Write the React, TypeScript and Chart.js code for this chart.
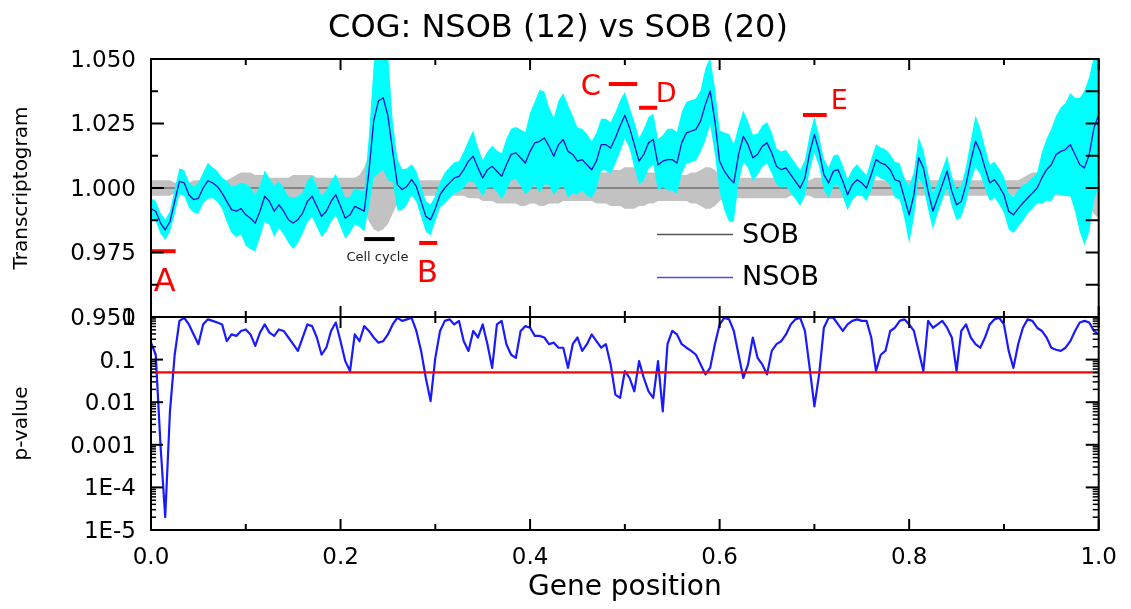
import React, { useEffect, useRef } from 'react';
import { Chart, registerables } from 'chart.js';

Chart.register(...registerables);

// ---------------- data ----------------
const genePosition = [
  0, 0.005, 0.01, 0.015, 0.02, 0.025, 0.03, 0.035, 0.04, 0.045,
  0.05, 0.055, 0.06, 0.065, 0.07, 0.075, 0.08, 0.085, 0.09, 0.095,
  0.1, 0.105, 0.11, 0.115, 0.12, 0.125, 0.13, 0.135, 0.14, 0.145,
  0.15, 0.155, 0.16, 0.165, 0.17, 0.175, 0.18, 0.185, 0.19, 0.195,
  0.2, 0.205, 0.21, 0.215, 0.22, 0.225, 0.23, 0.235, 0.24, 0.245,
  0.25, 0.255, 0.26, 0.265, 0.27, 0.275, 0.28, 0.285, 0.29, 0.295,
  0.3, 0.305, 0.31, 0.315, 0.32, 0.325, 0.33, 0.335, 0.34, 0.345,
  0.35, 0.355, 0.36, 0.365, 0.37, 0.375, 0.38, 0.385, 0.39, 0.395,
  0.4, 0.405, 0.41, 0.415, 0.42, 0.425, 0.43, 0.435, 0.44, 0.445,
  0.45, 0.455, 0.46, 0.465, 0.47, 0.475, 0.48, 0.485, 0.49, 0.495,
  0.5, 0.505, 0.51, 0.515, 0.52, 0.525, 0.53, 0.535, 0.54, 0.545,
  0.55, 0.555, 0.56, 0.565, 0.57, 0.575, 0.58, 0.585, 0.59, 0.595,
  0.6, 0.605, 0.61, 0.615, 0.62, 0.625, 0.63, 0.635, 0.64, 0.645,
  0.65, 0.655, 0.66, 0.665, 0.67, 0.675, 0.68, 0.685, 0.69, 0.695,
  0.7, 0.705, 0.71, 0.715, 0.72, 0.725, 0.73, 0.735, 0.74, 0.745,
  0.75, 0.755, 0.76, 0.765, 0.77, 0.775, 0.78, 0.785, 0.79, 0.795,
  0.8, 0.805, 0.81, 0.815, 0.82, 0.825, 0.83, 0.835, 0.84, 0.845,
  0.85, 0.855, 0.86, 0.865, 0.87, 0.875, 0.88, 0.885, 0.89, 0.895,
  0.9, 0.905, 0.91, 0.915, 0.92, 0.925, 0.93, 0.935, 0.94, 0.945,
  0.95, 0.955, 0.96, 0.965, 0.97, 0.975, 0.98, 0.985, 0.99, 0.995,
  1.0,
];

// NSOB (12) mean transcriptogram
const nsobMean = [
  0.992, 0.991, 0.9864, 0.9838, 0.987, 0.9948, 1.0026, 1.002, 0.9974, 0.9955,
  0.996, 1.0, 1.0028, 1.002, 1.0006, 0.998, 0.9948, 0.9916, 0.991, 0.992,
  0.9896, 0.9883, 0.9864, 0.991, 0.9968, 0.9948, 0.991, 0.9935, 0.991, 0.9877,
  0.9864, 0.9877, 0.9903, 0.9948, 0.9968, 0.9929, 0.989, 0.991, 0.9948, 0.9974,
  0.9929, 0.9883, 0.9896, 0.9929, 0.992, 0.991, 1.0065, 1.026, 1.0337, 1.035,
  1.028, 1.0142, 1.0013, 0.9994, 1.0006, 1.0032, 1.0006, 0.9948, 0.989, 0.9877,
  0.992, 0.9974, 1.0, 1.002, 1.0039, 1.0045, 1.0071, 1.0104, 1.0123, 1.0078,
  1.0039, 1.0071, 1.0084, 1.0065, 1.0045, 1.009, 1.013, 1.0136, 1.0117, 1.0097,
  1.0142, 1.0175, 1.0181, 1.0194, 1.0162, 1.0123, 1.0168, 1.0188, 1.0142, 1.013,
  1.0104, 1.011, 1.009, 1.0071, 1.0104, 1.0168, 1.0168, 1.0155, 1.0194, 1.024,
  1.0282, 1.0233, 1.0168, 1.0104, 1.013, 1.0175, 1.0188, 1.009, 1.0104, 1.011,
  1.011, 1.0097, 1.0175, 1.0214, 1.022, 1.0227, 1.026, 1.0324, 1.0376, 1.026,
  1.0104, 1.0065, 1.0039, 1.002, 1.013, 1.02, 1.0168, 1.0117, 1.013, 1.0162,
  1.0175, 1.0136, 1.0084, 1.0071, 1.0078, 1.0052, 1.0026, 1.0, 1.0039, 1.0136,
  1.0207, 1.0142, 1.0052, 1.002, 1.0065, 1.0071, 1.0026, 0.9974, 1.0013, 1.0032,
  1.002, 1.0, 1.0052, 1.011, 1.0097, 1.009, 1.0071, 1.0032, 1.0026, 0.9961,
  0.9896, 0.9974, 1.0117, 1.0078, 0.9987, 0.991, 0.9961, 1.0013, 1.0065, 0.9987,
  0.9935, 0.9948, 1.0013, 1.0104, 1.0181, 1.0142, 1.0078, 1.002, 1.0032, 1.0006,
  0.9974, 0.991, 0.9896, 0.992, 0.9942, 0.9961, 0.998, 1.0, 1.0039, 1.0071,
  1.009, 1.013, 1.0142, 1.0149, 1.0168, 1.013, 1.009, 1.0078, 1.013, 1.0233,
  1.0285,
];

// half-width of the NSOB (cyan) band, in thousandths
const nsobSpread = [
  4, 4, 4, 4, 4, 5, 5, 5, 5, 5,
  6, 6, 7, 6, 6, 6, 8, 9, 10, 10,
  12, 12, 11, 10, 10, 9, 10, 9, 9, 9,
  10, 9, 8, 8, 8, 8, 8, 8, 8, 8,
  8, 8, 7, 7, 7, 8, 14, 22, 28, 28,
  25, 12, 10, 8, 7, 6, 6, 6, 6, 6,
  5, 5, 6, 6, 6, 6, 7, 8, 10, 8,
  7, 7, 8, 8, 9, 10, 10, 10, 11, 12,
  15, 16, 20, 18, 15, 15, 17, 18, 18, 15,
  13, 12, 12, 11, 11, 10, 10, 10, 10, 10,
  9, 8, 9, 9, 10, 10, 10, 10, 10, 12,
  12, 12, 12, 12, 12, 12, 12, 14, 13, 13,
  12, 15, 17, 15, 11, 10, 9, 9, 8, 8,
  8, 8, 7, 7, 7, 7, 7, 7, 7, 7,
  7, 6, 6, 6, 6, 6, 6, 6, 6, 6,
  5, 5, 6, 6, 6, 6, 6, 7, 7, 8,
  11, 9, 8, 7, 7, 7, 6, 6, 6, 6,
  6, 6, 7, 8, 10, 9, 8, 7, 7, 7,
  7, 7, 7, 7, 7, 6, 6, 6, 10, 12,
  14, 15, 17, 18, 20, 22, 26, 30, 30, 28,
  28,
];

// SOB (20) reference level and its (gray) band half-width, in thousandths
const sobMean = 1.0;
const sobSpread = [
  3, 3, 3, 3, 3, 2, 2, 2, 2, 3,
  3, 3, 3, 3, 3, 3, 3, 4, 5, 6,
  6, 6, 5, 5, 5, 4, 4, 4, 4, 4,
  5, 5, 5, 5, 5, 4, 4, 4, 4, 4,
  4, 4, 4, 4, 5, 8, 13, 16, 17, 16,
  14, 10, 6, 3, 3, 3, 3, 3, 3, 3,
  3, 3, 3, 3, 3, 3, 3, 4, 4, 4,
  5, 5, 5, 6, 6, 6, 6, 6, 7, 7,
  6, 6, 7, 7, 6, 6, 6, 5, 5, 5,
  5, 5, 5, 5, 6, 6, 6, 7, 7, 7,
  8, 8, 8, 7, 7, 6, 6, 5, 5, 5,
  5, 5, 5, 5, 6, 6, 7, 8, 8, 7,
  5, 4, 4, 4, 4, 4, 4, 4, 4, 4,
  4, 4, 4, 4, 4, 3, 3, 3, 3, 3,
  4, 4, 4, 4, 4, 4, 4, 4, 4, 3,
  3, 3, 3, 3, 3, 3, 3, 3, 3, 3,
  3, 3, 3, 3, 3, 3, 3, 3, 3, 3,
  3, 3, 3, 3, 3, 3, 3, 3, 3, 3,
  3, 3, 3, 3, 4, 5, 6, 6, 5, 4,
  3, 3, 3, 3, 3, 3, 4, 5, 7, 10,
  12,
];

// p-value along gene position
const pValue = [
  0.25, 0.13, 0.001, 0.00002, 0.006, 0.13, 0.81, 0.96, 0.67, 0.39,
  0.23, 0.67, 0.88, 0.81, 0.74, 0.67, 0.27, 0.39, 0.36, 0.47,
  0.51, 0.39, 0.21, 0.43, 0.67, 0.43, 0.36, 0.51, 0.47, 0.33,
  0.23, 0.16, 0.33, 0.67, 0.61, 0.33, 0.13, 0.19, 0.47, 0.74,
  0.27, 0.092, 0.054, 0.39, 0.27, 0.61, 0.47, 0.33, 0.25, 0.27,
  0.39, 0.67, 0.96, 0.81, 0.88, 0.96, 0.47, 0.16, 0.037, 0.0106,
  0.11, 0.47, 0.81, 0.88, 0.67, 0.81, 0.27, 0.16, 0.47, 0.33,
  0.67, 0.23, 0.064, 0.67, 0.81, 0.23, 0.13, 0.11, 0.47, 0.61,
  0.56, 0.36, 0.36, 0.33, 0.23, 0.25, 0.19, 0.19, 0.064, 0.23,
  0.33, 0.16, 0.23, 0.39, 0.27, 0.19, 0.23, 0.077, 0.015, 0.0126,
  0.054, 0.037, 0.018, 0.092, 0.037, 0.018, 0.0126, 0.092, 0.0061, 0.23,
  0.47, 0.39, 0.23, 0.19, 0.16, 0.13, 0.077, 0.045, 0.064, 0.23,
  0.67, 0.96, 0.88, 0.47, 0.13, 0.037, 0.077, 0.33, 0.11, 0.077,
  0.045, 0.16, 0.23, 0.27, 0.39, 0.67, 0.88, 0.96, 0.47, 0.064,
  0.008, 0.045, 0.56, 0.96, 0.96, 0.67, 0.47, 0.67, 0.81, 0.88,
  0.81, 0.81, 0.33, 0.054, 0.13, 0.16, 0.47, 0.56, 0.81, 0.88,
  0.67, 0.47, 0.16, 0.054, 0.81, 0.56, 0.67, 0.81, 0.56, 0.33,
  0.054, 0.47, 0.67, 0.33, 0.23, 0.19, 0.33, 0.67, 0.88, 0.96,
  0.67, 0.16, 0.064, 0.23, 0.56, 0.88, 0.81, 0.56, 0.47, 0.33,
  0.19, 0.17, 0.16, 0.19, 0.27, 0.47, 0.74, 0.81, 0.74, 0.47,
  0.39,
];

const pThreshold = 0.05;

// axis ticks
const xTickValues = [0, 0.2, 0.4, 0.6, 0.8, 1.0];
const xTickLabels = ['0.0', '0.2', '0.4', '0.6', '0.8', '1.0'];
const xMinorTickValues = [0.1, 0.3, 0.5, 0.7, 0.9];
const topTickValues = [0.95, 0.975, 1.0, 1.025, 1.05];
const topTickLabels = ['0.950', '0.975', '1.000', '1.025', '1.050'];
const topMinorTickValues = [0.9625, 0.9875, 1.0125, 1.0375];
const pTickValues = [1e-5, 1e-4, 1e-3, 1e-2, 1e-1, 1];
const pTickLabels = ['1E-5', '1E-4', '0.001', '0.01', '0.1', '1'];

// marked regions (gene position range, transcriptogram level)
const regionNames = ['A', 'B', 'C', 'D', 'E'];
const regionStart = [0.001, 0.283, 0.483, 0.515, 0.688];
const regionEnd = [0.026, 0.302, 0.513, 0.534, 0.713];
const regionLevel = [0.9755, 0.9787, 1.0403, 1.0311, 1.0283];
const cellCycleRange = [0.225, 0.257];
const cellCycleLevel = 0.9802;

const FONT = "'DejaVu Sans', 'Liberation Sans', sans-serif";

// label placement for the region letters (gene position, level) and sizes
const regionLabelPos = [
  { x: 0.0145, y: 0.9632, size: 32 },
  { x: 0.2916, y: 0.9668, size: 31 },
  { x: 0.4642, y: 1.0388, size: 29 },
  { x: 0.5435, y: 1.0362, size: 27 },
  { x: 0.7263, y: 1.0332, size: 27 },
];

const decorPlugin = {
  id: 'decor',
  afterDatasetsDraw(chart: any) {
    const { ctx, chartArea: ca } = chart;
    const sx = chart.scales.x;
    const sT = chart.scales.yT;
    const sP = chart.scales.yP;
    const seg = (x1: number, y1: number, x2: number, y2: number) => {
      ctx.beginPath();
      ctx.moveTo(x1, y1);
      ctx.lineTo(x2, y2);
      ctx.stroke();
    };
    ctx.save();

    // region bars and letters
    ctx.fillStyle = '#ff0000';
    regionNames.forEach((name, i) => {
      const x1 = sx.getPixelForValue(regionStart[i]);
      const x2 = sx.getPixelForValue(regionEnd[i]);
      const py = sT.getPixelForValue(regionLevel[i]);
      ctx.fillRect(x1, py - 2, x2 - x1, 4);
      const lp = regionLabelPos[i];
      ctx.font = `${lp.size}px ${FONT}`;
      ctx.textAlign = 'center';
      ctx.textBaseline = 'middle';
      ctx.fillText(name, sx.getPixelForValue(lp.x), sT.getPixelForValue(lp.y));
    });

    // cell cycle bar
    ctx.fillStyle = '#000';
    {
      const x1 = sx.getPixelForValue(cellCycleRange[0]);
      const x2 = sx.getPixelForValue(cellCycleRange[1]);
      const py = sT.getPixelForValue(cellCycleLevel);
      ctx.fillRect(x1, py - 2, x2 - x1, 4);
      ctx.font = `13px ${FONT}`;
      ctx.fillStyle = '#222';
      ctx.textAlign = 'center';
      ctx.textBaseline = 'middle';
      ctx.fillText('Cell cycle', (x1 + x2) / 2 - 2, py + 19);
    }

    // legend
    ctx.lineWidth = 1.5;
    ctx.strokeStyle = '#555555';
    seg(ca.left + 506, 234.5, ca.left + 582, 234.5);
    ctx.strokeStyle = '#4b4bf0';
    seg(ca.left + 506, 277.5, ca.left + 582, 277.5);
    ctx.fillStyle = '#000';
    ctx.font = `27px ${FONT}`;
    ctx.textAlign = 'left';
    ctx.textBaseline = 'middle';
    ctx.fillText('SOB', ca.left + 591, 236);
    ctx.fillText('NSOB', ca.left + 591, 278);

    // frame
    ctx.strokeStyle = '#000';
    ctx.lineWidth = 2;
    ctx.strokeRect(ca.left, ca.top, ca.right - ca.left, ca.bottom - ca.top);
    const mid = sT.bottom;
    seg(ca.left, mid, ca.right, mid);

    // x tick marks
    const xt = (v: number, len: number) => {
      const px = sx.getPixelForValue(v);
      seg(px, sT.top, px, sT.top + len);
      seg(px, mid - len, px, mid + len);
      seg(px, sP.bottom - len, px, sP.bottom);
    };
    xTickValues.forEach((v) => xt(v, 11));
    xMinorTickValues.forEach((v) => xt(v, 6));

    // top panel y ticks
    topTickValues.forEach((v) => {
      const py = sT.getPixelForValue(v);
      seg(ca.left, py, ca.left + 13, py);
      seg(ca.right - 13, py, ca.right, py);
    });
    topMinorTickValues.forEach((v) => {
      const py = sT.getPixelForValue(v);
      seg(ca.left, py, ca.left + 7, py);
      seg(ca.right - 13, py, ca.right, py);
    });

    // bottom panel log ticks
    pTickValues.forEach((v, i) => {
      const py = sP.getPixelForValue(v);
      seg(ca.left, py, ca.left + 12, py);
      seg(ca.right - 13, py, ca.right, py);
      if (i < pTickValues.length - 1) {
        for (let m = 2; m <= 9; m++) {
          const pm = sP.getPixelForValue(v * m);
          ctx.lineWidth = 1.5;
          seg(ca.left, pm, ca.left + 5, pm);
          seg(ca.right - 6, pm, ca.right, pm);
          ctx.lineWidth = 2;
        }
      }
    });

    // title
    ctx.fillStyle = '#000';
    ctx.font = `32px ${FONT}`;
    ctx.textAlign = 'center';
    ctx.textBaseline = 'middle';
    ctx.fillText('COG: NSOB (12) vs SOB (20)', 558, 29);

    ctx.restore();
  },
};

export default function App() {
  const ref = useRef<HTMLCanvasElement>(null);

  useEffect(() => {
    const canvas = ref.current;
    if (!canvas) return;
    Chart.defaults.font.family = FONT;
    Chart.defaults.color = '#000';

    const pts = (ys: number[]) => genePosition.map((x, i) => ({ x, y: ys[i] }));
    const nsobLower = nsobMean.map((m, i) => m - nsobSpread[i] / 1000);
    const nsobUpper = nsobMean.map((m, i) => m + nsobSpread[i] / 1000);
    const sobLower = sobSpread.map((s) => sobMean - s / 1000);
    const sobUpper = sobSpread.map((s) => sobMean + s / 1000);
    const sobLine = genePosition.map(() => sobMean);
    const thresholdLine = genePosition.map(() => pThreshold);

    const common = { pointRadius: 0, tension: 0, borderJoinStyle: 'round' as const };

    const chart = new Chart(canvas, {
      type: 'line',
      data: {
        datasets: [
          { ...common, label: 'SOB low', data: pts(sobLower), yAxisID: 'yT', borderWidth: 0, borderColor: 'rgba(0,0,0,0)', fill: false, order: 7 },
          { ...common, label: 'SOB high', data: pts(sobUpper), yAxisID: 'yT', borderWidth: 0, borderColor: 'rgba(0,0,0,0)', backgroundColor: '#c2c2c2', fill: '-1', order: 6 },
          { ...common, label: 'SOB', data: pts(sobLine), yAxisID: 'yT', borderWidth: 1.2, borderColor: '#4a4a4a', fill: false, order: 5 },
          { ...common, label: 'NSOB low', data: pts(nsobLower), yAxisID: 'yT', borderWidth: 0, borderColor: 'rgba(0,0,0,0)', fill: false, order: 4 },
          { ...common, label: 'NSOB high', data: pts(nsobUpper), yAxisID: 'yT', borderWidth: 0, borderColor: 'rgba(0,0,0,0)', backgroundColor: '#00ffff', fill: '-1', order: 3 },
          { ...common, label: 'NSOB', data: pts(nsobMean), yAxisID: 'yT', borderWidth: 1.3, borderColor: '#0b0bd0', fill: false, order: 2 },
          { ...common, label: 'p-value', data: pts(pValue), yAxisID: 'yP', borderWidth: 2.2, borderColor: '#1a1aff', fill: false, order: 2 },
          { ...common, label: 'threshold', data: pts(thresholdLine), yAxisID: 'yP', borderWidth: 2.2, borderColor: '#ff0000', fill: false, order: 1 },
        ],
      },
      options: {
        responsive: false,
        animation: false,
        events: [],
        layout: { padding: { left: 10, top: 59, right: 30, bottom: 4 } },
        plugins: {
          legend: { display: false },
          tooltip: { enabled: false },
          title: { display: false },
        },
        scales: {
          x: {
            type: 'linear',
            position: 'bottom',
            min: 0,
            max: 1,
            grid: { display: false, drawTicks: false },
            border: { display: false },
            afterFit: (s: any) => { s.height = 75; },
            afterBuildTicks: (s: any) => { s.ticks = xTickValues.map((v) => ({ value: v })); },
            ticks: {
              autoSkip: false,
              maxRotation: 0,
              padding: 14,
              font: { size: 23 },
              color: '#000',
              callback: (_v: any, i: number) => xTickLabels[i],
            },
            title: { display: true, text: 'Gene position', font: { size: 28 }, color: '#000', padding: 0 },
          },
          yP: {
            type: 'logarithmic',
            position: 'left',
            stack: 'panels',
            stackWeight: 213,
            min: 1e-5,
            max: 1,
            grid: { display: false, drawTicks: false },
            border: { display: false },
            afterFit: (s: any) => { s.width = 141; },
            afterBuildTicks: (s: any) => { s.ticks = pTickValues.map((v) => ({ value: v })); },
            ticks: {
              autoSkip: false,
              padding: 15,
              labelOffset: 2,
              font: { size: 23 },
              color: '#000',
              callback: (_v: any, i: number) => pTickLabels[i],
            },
            title: { display: true, text: 'p-value', font: { size: 20 }, color: '#000', padding: 0 },
          },
          yT: {
            type: 'linear',
            position: 'left',
            stack: 'panels',
            stackWeight: 258,
            min: 0.95,
            max: 1.05,
            grid: { display: false, drawTicks: false },
            border: { display: false },
            afterFit: (s: any) => { s.width = 141; },
            afterBuildTicks: (s: any) => { s.ticks = topTickValues.map((v) => ({ value: v })); },
            ticks: {
              autoSkip: false,
              padding: 15,
              labelOffset: 2,
              font: { size: 23 },
              color: '#000',
              callback: (_v: any, i: number) => topTickLabels[i],
            },
            title: { display: true, text: 'Transcriptogram', font: { size: 20 }, color: '#000', padding: 0 },
          },
        },
      } as any,
      plugins: [decorPlugin],
    });

    return () => chart.destroy();
  }, []);

  return (
    <div style={{ position: 'fixed', left: 0, top: 0, width: 1131, height: 609, background: '#fff' }}>
      <canvas ref={ref} width={1131} height={609} style={{ display: 'block', width: 1131, height: 609 }} />
    </div>
  );
}
